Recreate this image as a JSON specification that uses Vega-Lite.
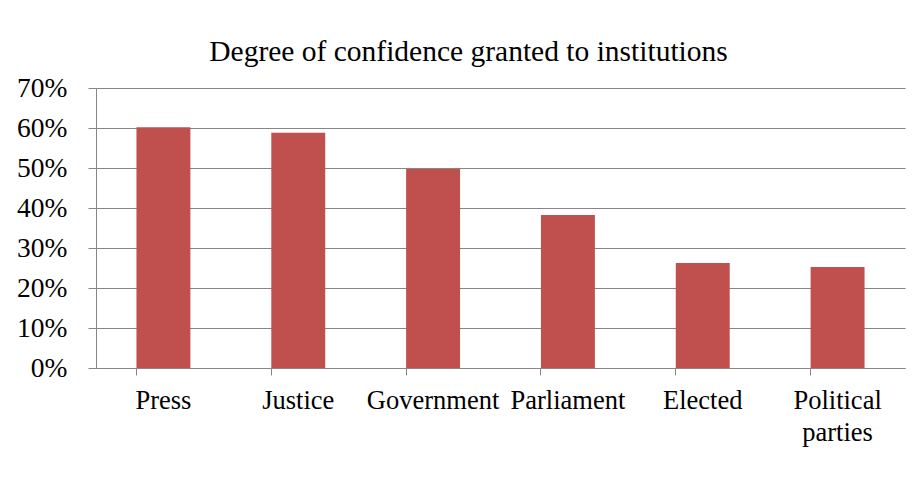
{
  "$schema": "https://vega.github.io/schema/vega-lite/v6.json",
  "width": 809,
  "height": 280,
  "autosize": "none",
  "padding": {"left": 96, "top": 88, "right": 11, "bottom": 111},
  "background": "white",
  "title": {
    "text": "Degree of confidence granted to institutions",
    "font": "Liberation Serif",
    "fontSize": 29.5,
    "fontWeight": "normal",
    "color": "black",
    "offset": 7,
    "dx": -32
  },
  "data": {
    "values": [
      {"institution": "Press", "confidence": 0.602},
      {"institution": "Justice", "confidence": 0.588},
      {"institution": "Government", "confidence": 0.4975},
      {"institution": "Parliament", "confidence": 0.3825},
      {"institution": "Elected", "confidence": 0.2625},
      {"institution": "Political parties", "confidence": 0.2525}
    ]
  },
  "mark": {"type": "bar", "color": "#C0504D"},
  "encoding": {
    "x": {
      "field": "institution",
      "type": "nominal",
      "sort": null,
      "scale": {"paddingInner": 0.6, "paddingOuter": 0.3},
      "axis": {
        "title": null,
        "labelAngle": 0,
        "labelFont": "Liberation Serif",
        "labelFontSize": 26.5,
        "labelColor": "black",
        "labelPadding": 12,
        "labelLineHeight": 32,
        "labelExpr": "datum.label == 'Political parties' ? ['Political', 'parties'] : datum.label",
        "bandPosition": 0,
        "tickSize": 7,
        "tickColor": "#868686",
        "domainColor": "#868686",
        "grid": false
      }
    },
    "y": {
      "field": "confidence",
      "type": "quantitative",
      "scale": {"domain": [0, 0.7]},
      "axis": {
        "title": null,
        "values": [0, 0.1, 0.2, 0.3, 0.4, 0.5, 0.6, 0.7],
        "format": ".0%",
        "labelFont": "Liberation Serif",
        "labelFontSize": 27.5,
        "labelColor": "black",
        "labelPadding": 21,
        "tickSize": 8,
        "tickColor": "#868686",
        "domainColor": "#868686",
        "grid": true,
        "gridColor": "#868686"
      }
    }
  },
  "config": {"view": {"stroke": null}}
}
